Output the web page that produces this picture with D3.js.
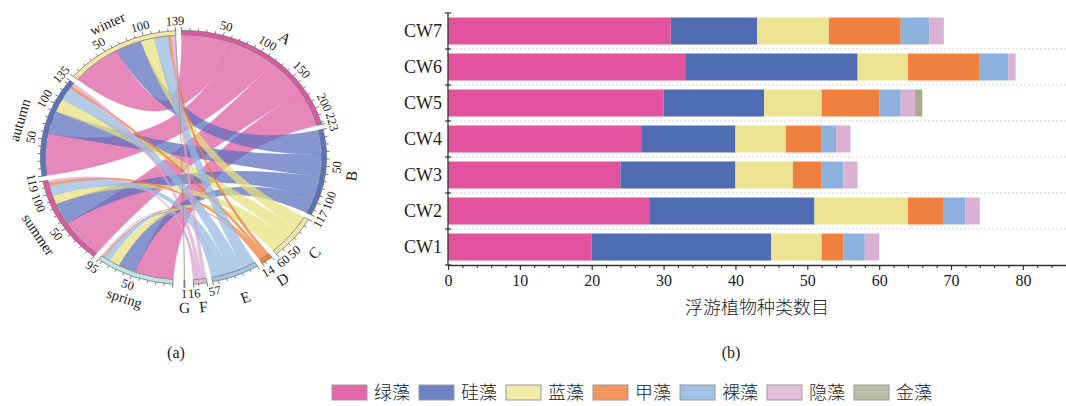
<!DOCTYPE html>
<html><head><meta charset="utf-8">
<script src="https://cdn.jsdelivr.net/npm/d3@7"></script>
<style>
body{margin:0;background:#fff;}
svg{display:block;}
</style></head><body>
<svg id="c" width="1066" height="406"></svg>
<script>
// ---------- (b) stacked bar data ----------
const stations = ["CW1","CW2","CW3","CW4","CW5","CW6","CW7"];
const algaeTypes = ["绿藻","硅藻","蓝藻","甲藻","裸藻","隐藻","金藻"];
const lvzao  = [20,28,24,27,30,33,31];
const guizao = [25,23,16,13,14,24,12];
const lanzao = [7,13,8,7,8,7,10];
const jiazao = [3,5,4,5,8,10,10];
const luozao = [3,3,3,2,3,4,4];
const yinzao = [2,2,2,2,2,1,2];
const jinzao = [0,0,0,0,1,0,0];
const xTicks = [0,10,20,30,40,50,60,70,80];
const xTitle = "浮游植物种类数目";
const barColors = ["#e2539e","#506db4","#ebe391","#ef8040","#8db0dd","#dab0d3","#a6ab8c"];
const legendColors = ["#e268a9","#6c82c2","#f2eaa8","#f2955f","#a3c0e5","#e3bfda","#b9bea6"];

// ---------- (a) chord data (rows: A..G, cols: spring, summer, autumn, winter) ----------
const chordGroups = ["A","B","C","D","E","F","G"];
const seasons = ["spring","summer","autumn","winter"];
const linkA = [48,55,58,62];
const linkB = [22,30,32,33];
const linkC = [13,12,18,17];
const linkD = [2,4,4,4];
const linkE = [8,14,18,17];
const linkF = [2,4,5,5];
const linkG = [0,0,0,1];
const ringColors = ["#d95a9e","#5b72bd","#efe7a3","#ef7f3c","#a5c3ea","#e2b8d9","#7d7f6e",
                    "#bde5e8","#d95a9e","#5b72bd","#f2e8a7"];
const ribbonColors = ["#de5aa0","#5a6ebe","#e6e17d","#f07a30","#96b9e1","#dba6cf","#8a8f70"];

const SERIF = "'Liberation Serif','Times New Roman',serif";
const CJK = "'Noto Sans CJK SC','Noto Sans CJK JP',sans-serif";
const svg = d3.select("#c");

// ================= BAR CHART =================
(function(){
  const series = [lvzao,guizao,lanzao,jiazao,luozao,yinzao,jinzao];
  const rows = stations.map((s,i)=>{const o={station:s}; algaeTypes.forEach((a,j)=>o[a]=series[j][i]); return o;});
  const stacked = d3.stack().keys(algaeTypes)(rows);
  const x = d3.scaleLinear().domain([0,86]).range([448,1066]);
  const y = d3.scaleBand().domain(stations.slice().reverse()).range([13,265]).paddingInner(0.25).paddingOuter(0.125);
  const g = svg.append("g");
  const step = y.step();
  const bounds = d3.range(0, stations.length+1).map(i=>y.range()[0]+i*step);
  g.selectAll("line.grid").data(bounds.slice(1,-1)).join("line")
    .attr("x1",x(0)).attr("x2",1066).attr("y1",d=>d).attr("y2",d=>d)
    .attr("stroke","#d6d6d6").attr("stroke-width",1).attr("stroke-dasharray","2,2");
  stacked.forEach((layer,k)=>{
    g.selectAll(null).data(layer.filter(d=>d[1]>d[0])).join("rect")
      .attr("x",d=>x(d[0])).attr("width",d=>x(d[1])-x(d[0]))
      .attr("y",d=>y(d.data.station)).attr("height",y.bandwidth())
      .attr("fill",barColors[k]);
  });
  const ya = g.append("g").attr("transform",`translate(${x(0)},0)`)
    .call(d3.axisLeft(y).tickSize(0).tickPadding(6));
  ya.select(".domain").remove();
  ya.selectAll("text").attr("font-family",SERIF).attr("font-size",18).attr("fill","#222");
  g.append("line").attr("x1",x(0)).attr("x2",x(0)).attr("y1",bounds[0]).attr("y2",bounds[bounds.length-1])
    .attr("stroke","#333").attr("stroke-width",1.3);
  g.selectAll("line.yt").data(bounds).join("line")
    .attr("x1",x(0)-3).attr("x2",x(0)+3).attr("y1",d=>d).attr("y2",d=>d)
    .attr("stroke","#333").attr("stroke-width",1.2);
  const xa = g.append("g").attr("transform",`translate(0,${bounds[bounds.length-1]})`)
    .call(d3.axisBottom(x).tickValues(xTicks).tickSize(5).tickSizeOuter(0).tickPadding(5).tickFormat(d3.format("d")));
  xa.select(".domain").attr("stroke","#333").attr("stroke-width",1.3);
  xa.selectAll(".tick line").attr("stroke","#333").attr("stroke-width",1.2);
  xa.selectAll("text").attr("font-family",SERIF).attr("font-size",16).attr("fill","#222");
  const minor = d3.range(0,87,2).filter(v=>v%10!==0);
  const xm = g.append("g").attr("transform",`translate(0,${bounds[bounds.length-1]})`)
    .call(d3.axisBottom(x).tickValues(minor).tickSize(3).tickSizeOuter(0).tickFormat(""));
  xm.select(".domain").remove();
  xm.selectAll(".tick line").attr("stroke","#333").attr("stroke-width",1.1);
  g.append("text").attr("x",(x(0)+1066)/2).attr("y",314).attr("text-anchor","middle")
    .attr("font-family",CJK).attr("font-size",18).attr("font-weight",300).attr("fill","#222").text(xTitle);
})();

// ================= CHORD DIAGRAM =================
(function(){
  const CX=183.5, CY=157.5, SX=1.127, R_OUT=127, R_IN=122.5;
  const rad = Math.PI/180;
  const links = [linkA,linkB,linkC,linkD,linkE,linkF,linkG];
  const names = chordGroups.concat(seasons);
  const totals = links.map(r=>d3.sum(r)).concat(seasons.map((s,j)=>d3.sum(links,r=>r[j])));
  const padDeg = [2.3,2.3,2.3,2.3,2.3,3.5,4.5,2.3,2.3,2.3,2.3];
  const unit = d3.scaleLinear().domain([0,d3.sum(totals)]).range([0,2*Math.PI - d3.sum(padDeg)*rad]);
  let a = (-2 + padDeg[10]/2)*rad;
  const sectors = totals.map((t,i)=>{
    const s = {name:names[i], total:t, start:a, end:a+unit(t), color:ringColors[i]};
    s.scale = d3.scaleLinear().domain([0,t]).range([s.start,s.end]);
    a = s.end + padDeg[i]*rad;
    return s;
  });
  const nA = chordGroups.length;
  const algSub = links.map(()=>[]), seaSub = seasons.map(()=>[]);
  links.forEach((row,i)=>{
    let c=0;
    [3,2,1,0].forEach(j=>{const v=row[j]; algSub[i][j]=[sectors[i].scale(c),sectors[i].scale(c+v)]; c+=v;});
  });
  seasons.forEach((s,j)=>{
    let c=0; const sec=sectors[nA+j];
    [0,1,2,4,3,5,6].forEach(i=>{const v=links[i][j]; seaSub[j][i]=[sec.scale(c),sec.scale(c+v)]; c+=v;});
  });

  const g = svg.append("g").attr("transform",`translate(${CX},${CY}) scale(${SX},1)`);
  const ribbon = d3.ribbon().radius(R_IN-0.5);
  links.forEach((row,i)=>{
    row.forEach((v,j)=>{
      if(v<=0) return;
      g.append("path")
        .attr("d", ribbon({source:{startAngle:algSub[i][j][0],endAngle:algSub[i][j][1]},
                           target:{startAngle:seaSub[j][i][0],endAngle:seaSub[j][i][1]}}))
        .attr("fill",ribbonColors[i]).attr("fill-opacity",0.72)
        .attr("stroke",ribbonColors[i]).attr("stroke-opacity",0.45).attr("stroke-width",0.5)
        .attr("vector-effect","non-scaling-stroke");
    });
  });
  const arc = d3.arc().innerRadius(R_IN).outerRadius(R_OUT);
  g.selectAll("path.ring").data(sectors).join("path")
    .attr("d",d=>arc({startAngle:d.start,endAngle:d.end}))
    .attr("fill",d=>d.color).attr("stroke","#6d6d6d").attr("stroke-width",0.7)
    .attr("vector-effect","non-scaling-stroke");
  sectors.forEach(s=>{
    const vals = d3.range(0,s.total,10).concat([s.total]);
    vals.forEach(v=>{
      const th = s.scale(v), len = (v%50===0||v===s.total)?3.5:2.5;
      g.append("line")
        .attr("x1",R_OUT*Math.sin(th)).attr("y1",-R_OUT*Math.cos(th))
        .attr("x2",(R_OUT+len)*Math.sin(th)).attr("y2",-(R_OUT+len)*Math.cos(th))
        .attr("stroke","#555").attr("stroke-width",0.8).attr("vector-effect","non-scaling-stroke");
    });
  });
  function place(th, r, txt, size){
    const px = CX + SX*r*Math.sin(th), py = CY - r*Math.cos(th);
    let rot = Math.atan2(Math.sin(th), SX*Math.cos(th))/rad;
    if(Math.cos(th) < 0) rot += 180;
    svg.append("text").attr("transform",`translate(${px},${py}) rotate(${rot})`)
      .attr("text-anchor","middle").attr("dominant-baseline","central")
      .attr("font-family",SERIF).attr("font-size",size).attr("fill","#222").text(txt);
  }
  const FS = 12.5, RL = R_OUT+9.5;
  sectors.forEach(s=>{
    const labs = d3.range(50,s.total,50).filter(v=>s.total-v>=8).concat([s.total]);
    const angs = labs.map(v=>s.scale(v));
    // keep neighbouring labels from overlapping: push earlier label back if too close
    for(let k=angs.length-2;k>=0;k--){
      const th = angs[k+1];
      const perRad = RL*Math.hypot(SX*Math.cos(th), Math.sin(th));
      const need = (String(labs[k]).length + String(labs[k+1]).length)*0.5*FS/2 + 2;
      if((angs[k+1]-angs[k])*perRad < need) angs[k] = angs[k+1] - need/perRad;
    }
    labs.forEach((v,k)=>place(angs[k], RL, String(v), FS));
    place((s.start+s.end)/2, 150, s.name, s.name.length>1?14.5:15.5);
  });
  svg.append("text").attr("x",176).attr("y",358).attr("text-anchor","middle")
    .attr("font-family",SERIF).attr("font-size",16).attr("fill","#222").text("(a)");
})();

svg.append("text").attr("x",731).attr("y",358).attr("text-anchor","middle")
  .attr("font-family",SERIF).attr("font-size",16).attr("fill","#222").text("(b)");

// ================= LEGEND =================
const lg = svg.append("g");
algaeTypes.forEach((t,i)=>{
  const x0 = 332 + i*87;
  lg.append("rect").attr("x",x0).attr("y",385).attr("width",35).attr("height",15)
    .attr("fill",legendColors[i]).attr("stroke","#9a9a9a").attr("stroke-width",1);
  lg.append("text").attr("x",x0+42).attr("y",399).attr("font-family",CJK).attr("font-size",18)
    .attr("font-weight",300).attr("fill","#222").text(t);
});
</script>
</body></html>
